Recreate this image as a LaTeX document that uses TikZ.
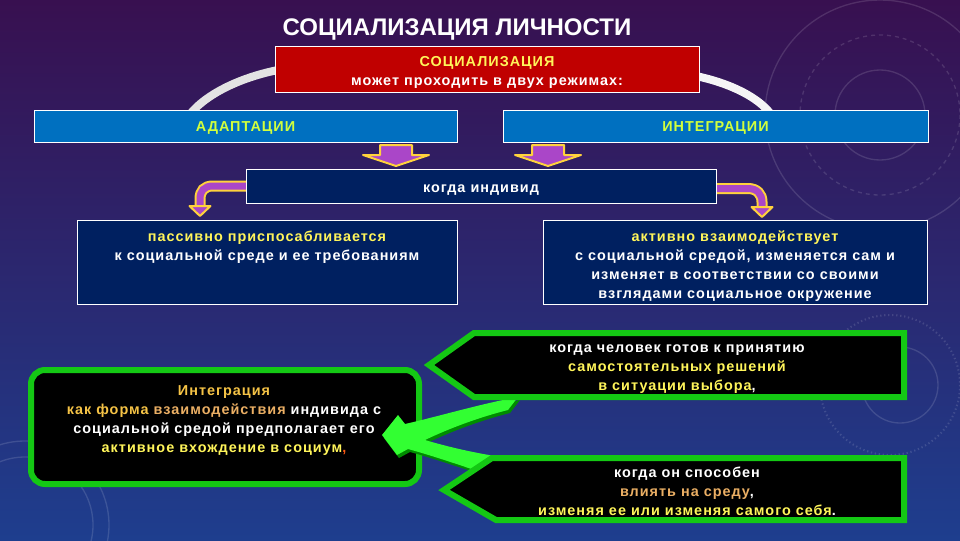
\documentclass[tikz,border=0pt]{standalone}
\usepackage{fontspec}
\setmainfont{Liberation Sans}
\newfontfamily\bodyf{Liberation Sans}[LetterSpace=7]
\usetikzlibrary{calc}
\definecolor{bgtop}{RGB}{56,16,80}
\definecolor{bgmid}{RGB}{70,32,120}
\definecolor{bgbot}{RGB}{30,62,142}
\definecolor{navy}{RGB}{0,32,96}
\definecolor{redbox}{RGB}{192,0,0}
\definecolor{bluebox}{RGB}{0,112,192}
\definecolor{lime}{RGB}{210,255,60}
\definecolor{ylw}{RGB}{255,245,90}
\definecolor{gold}{RGB}{245,195,70}
\definecolor{tanc}{RGB}{235,175,100}
\definecolor{grn}{RGB}{20,200,20}
\definecolor{brgreen}{RGB}{50,255,50}
\definecolor{dkgreen}{RGB}{0,140,0}
\definecolor{purp}{RGB}{170,70,200}
\definecolor{arry}{RGB}{255,210,60}
\definecolor{commared}{RGB}{255,90,20}
\begin{document}
\begin{tikzpicture}[x=0.75pt,y=-0.75pt,
  txt/.style={font=\bodyf\bfseries\fontsize{10.8}{14.25}\selectfont, text=white, inner sep=0pt, align=center},
  plainbox/.style={draw=white, line width=0.75pt, inner sep=0pt},
  navybox/.style={plainbox, fill=navy},
  parr/.style={fill=purp, draw=arry, line width=1.5pt, line join=round},
  pent/.style={fill=black, draw=grn, line width=4.5pt, line join=miter},
  deco/.style={draw=white, opacity=0.13, line width=1pt}
]
\useasboundingbox (0,0) rectangle (960,540);
\shade[top color=bgtop, middle color=bgmid, bottom color=bgbot] (0,0) rectangle (960,540);
% background decoration
\draw[deco] (880,115) circle[radius=115];
\draw[deco, dashed] (880,115) circle[radius=80];
\draw[deco] (880,115) circle[radius=45];
\draw[deco] (900,385) circle[radius=38];
\draw[deco, dotted, line width=1.5pt] (890,385) circle[radius=70];
\draw[deco] (25,525) circle[radius=68];
\draw[deco] (25,525) circle[radius=84];
% gray arcs
\draw[line width=6pt, color=white!78!gray] (278,70) .. controls (238,78) and (206,95) .. (191,113);
\draw[line width=6pt, color=white!92!gray] (696,76) .. controls (733,84) and (758,98) .. (770,113);
% top boxes
\node[plainbox, fill=redbox, minimum width=318pt, minimum height=34.5pt] (soc) at (487,69) {};
\node[txt] (soct) at (487,72.5) {{\color{ylw}СОЦИАЛИЗАЦИЯ}\\может проходить в двух режимах:};
\node[plainbox, fill=bluebox, minimum width=317.25pt, minimum height=24pt] (adapt) at (245.5,126) {};
\node[txt, text=lime] (adaptt) at (245.5,128) {АДАПТАЦИИ};
\node[plainbox, fill=bluebox, minimum width=318.75pt, minimum height=24pt] (integr) at (715.5,126) {};
\node[txt, text=lime] (integrt) at (715.5,128) {ИНТЕГРАЦИИ};
% down arrows
\draw[parr] (380,145) -- (412,145) -- (412,155) -- (429,155) -- (396,166) -- (363,155) -- (380,155) -- cycle;
\draw[parr] (532,145) -- (564,145) -- (564,155) -- (581,155) -- (548,166) -- (515,155) -- (532,155) -- cycle;
% bent arrows
\draw[line width=8.25pt, color=arry] (250,186) -- (213,186) .. controls (204,186) and (200,191) .. (200,199) -- (200,207);
\draw[line width=5.25pt, color=purp] (250,186) -- (213,186) .. controls (204,186) and (200,191) .. (200,199) -- (200,207);
\draw[parr] (189.5,206) -- (210.5,206) -- (200,216) -- cycle;
\draw[line width=8.25pt, color=arry] (712,188.5) -- (748,188.5) .. controls (757,188.5) and (762,194) .. (762,202) -- (762,208);
\draw[line width=5.25pt, color=purp] (712,188.5) -- (748,188.5) .. controls (757,188.5) and (762,194) .. (762,202) -- (762,208);
\draw[parr] (751.5,207) -- (772.5,207) -- (762,217) -- cycle;
% middle boxes
\node[navybox, minimum width=352.5pt, minimum height=25.5pt] (kogda) at (481,186) {};
\node[txt] (kogdat) at (481,190) {когда индивид};
\node[navybox, minimum width=285pt, minimum height=63pt] (pass) at (267,262) {};
\node[txt] (passt) at (267,247.5) {{\color{ylw}пассивно приспосабливается}\\к социальной среде и ее требованиям};
\node[navybox, minimum width=288pt, minimum height=63pt] (akt) at (735,262) {};
\node[txt] (aktt) at (735,266.5) {{\color{ylw}активно взаимодействует}\\с социальной средой, изменяется сам и\\изменяет в соответствии со своими\\взглядами социальное окружение};
% integration box
\node[fill=black, draw=grn, line width=4.5pt, rounded corners=10.5pt, minimum width=291pt, minimum height=85.5pt, inner sep=0pt] (integ) at (225,427) {};
\node[txt] (integt) at (224,421) {{\color{gold}Интеграция}\\{\color{gold}как форма }{\color{tanc}взаимодействия} индивида с\\социальной средой предполагает его\\{\color{ylw}активное вхождение в социум}{\color{commared},}};
% big green arrow
\begin{scope}[shift={(2,3)}]
\fill[dkgreen] (382,435) -- (398,415) -- (405,424) .. controls (440,416) and (480,404) .. (518,397) -- (508,410) .. controls (480,417) and (450,428) .. (425,440) .. controls (445,446) and (470,452) .. (495,456) -- (486,474) .. controls (460,465) and (430,455) .. (408,449) -- (397,455) -- cycle;
\end{scope}
\fill[brgreen] (382,435) -- (398,415) -- (405,424) .. controls (440,416) and (480,404) .. (518,397) -- (508,410) .. controls (480,417) and (450,428) .. (425,440) .. controls (445,446) and (470,452) .. (495,456) -- (486,474) .. controls (460,465) and (430,455) .. (408,449) -- (397,455) -- cycle;
% pentagons
\draw[pent] (474,333) -- (904,333) -- (904,397) -- (474,397) -- (429,365) -- cycle;
\node[txt] (p1t) at (677,369.5) {когда человек готов к принятию\\{\color{ylw}самостоятельных решений}\\{\color{ylw}в ситуации выбора},};
\draw[pent] (492,458) -- (904,458) -- (904,520) -- (496,520) -- (444,490) -- cycle;
\node[txt] (p2t) at (687,491) {когда он способен\\{\color{tanc}влиять на среду},\\{\color{ylw}изменяя ее или изменяя самого себя}.};
% title
\node[font=\bfseries\fontsize{18}{20}\selectfont, text=white, inner sep=0pt] (title) at (457,30) {СОЦИАЛИЗАЦИЯ ЛИЧНОСТИ};
\end{tikzpicture}
\end{document}
